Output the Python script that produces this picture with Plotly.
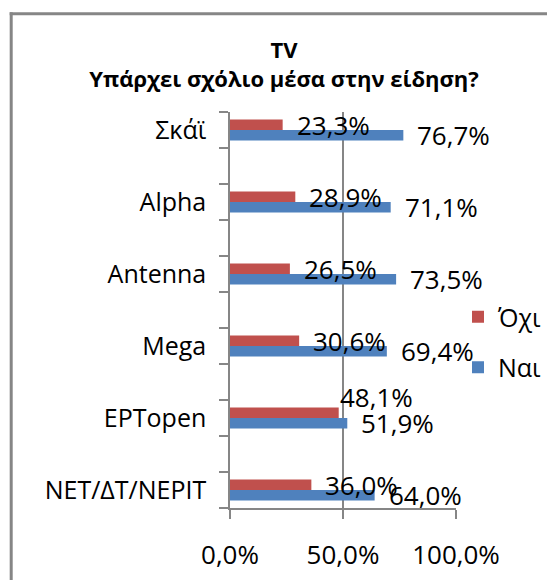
import plotly.graph_objects as go

# ---- data ----
categories = ["Σκάϊ", "Alpha", "Antenna", "Mega", "ΕΡΤopen", "ΝΕΤ/ΔΤ/ΝΕΡΙΤ"]
nai = [76.7, 71.1, 73.5, 69.4, 51.9, 64.0]
oxi = [23.3, 28.9, 26.5, 30.6, 48.1, 36.0]
x_ticks = [0, 50, 100]
series_names = ["Ναι", "Όχι"]
title_lines = ["TV", "Υπάρχει σχόλιο μέσα στην είδηση?"]

# ---- style / geometry ----
OFF = 8  # page body margin
W, H = 555 - OFF, 581 - OFF
ML, MT = 230 - OFF, 112 - OFF
PW, PH = 226, 396
MR, MB = W - ML - PW, H - MT - PH
FONT = "Open Sans"
BLUE, RED, GRID = "#4F81BD", "#C0504D", "#868686"
BARGAP = 0.71


def px2x(px):
    return (px - OFF - ML) / PW


def py2y(py):
    return (MT + PH - (py - OFF)) / PH


def fmt(v):
    return f"{v:.1f}".replace(".", ",") + "%"


n = len(categories)
ypos = [n - 1 - i for i in range(n)]
half = (1 - BARGAP) / 4  # centre offset of each bar inside its group

fig = go.Figure()
fig.add_trace(go.Bar(y=ypos, x=nai, orientation="h", name=series_names[0],
                     marker=dict(color=BLUE, line=dict(width=0)),
                     legendgroup="g1", legendrank=2))
fig.add_trace(go.Bar(y=ypos, x=oxi, orientation="h", name=series_names[1],
                     marker=dict(color=RED, line=dict(width=0)),
                     legendgroup="g2", legendrank=1))

# data labels
nudge = {(1, 4): (-13, 16)}  # (series, category) -> (dx, dy) in px
annotations = []
for s, vals in enumerate([nai, oxi]):
    for i, v in enumerate(vals):
        dx, dy = nudge.get((s, i), (0, 0))
        yc = ypos[i] + (half if s == 1 else -half)
        annotations.append(dict(x=v, y=yc, xref="x", yref="y", text=fmt(v),
                                showarrow=False, xanchor="left", yanchor="middle",
                                xshift=12 + dx, yshift=dy,
                                font=dict(family=FONT, size=26, color="black")))

# chart-area frame (only top and left edges fall inside the picture), drawn as thin filled bands
shapes = [
    dict(type="rect", xref="paper", yref="paper", layer="above",
         x0=px2x(9.7), x1=px2x(554), y0=py2y(15.3), y1=py2y(12.3),
         fillcolor=GRID, line=dict(width=0)),
    dict(type="rect", xref="paper", yref="paper", layer="above",
         x0=px2x(9.7), x1=px2x(12.7), y0=py2y(580), y1=py2y(12.3),
         fillcolor=GRID, line=dict(width=0)),
]

fig.update_layout(
    width=W, height=H,
    margin=dict(l=ML, r=MR, t=MT, b=MB, autoexpand=False),
    paper_bgcolor="white", plot_bgcolor="white",
    separators=",.",
    barmode="group", bargap=BARGAP, bargroupgap=0,
    font=dict(family=FONT, size=25, color="black"),
    title=dict(text="<br>".join(title_lines), x=(284 - OFF) / W, xref="container",
               xanchor="center", y=1 - 50 / H, yref="container", yanchor="top",
               font=dict(family=FONT, size=22, color="black", weight="bold")),
    xaxis=dict(range=[0, 100], tickvals=x_ticks, ticktext=[fmt(v) for v in x_ticks],
               showgrid=True, gridcolor=GRID, gridwidth=1.5, zeroline=False,
               showline=True, linecolor=GRID, linewidth=1.5,
               ticks="outside", ticklen=9, tickwidth=1.5, tickcolor=GRID,
               ticklabelstandoff=14, tickfont=dict(size=26)),
    yaxis=dict(range=[-0.25, n - 0.75], tickvals=ypos, ticktext=categories,
               showgrid=False, zeroline=False,
               showline=True, linecolor=GRID, linewidth=1.5,
               ticks="outside", ticklen=17, tickcolor="rgba(0,0,0,0)",
               minor=dict(tickvals=[-0.25 + 0.5 * k for k in range(2 * n)],
                          ticks="outside", ticklen=9, tickwidth=1.5, tickcolor=GRID,
                          showgrid=False),
               tickfont=dict(size=25)),
    legend=dict(x=px2x(458), y=py2y(294), xanchor="left", yanchor="top",
                traceorder="grouped", tracegroupgap=15,
                bgcolor="rgba(0,0,0,0)", font=dict(size=25)),
    annotations=annotations,
    shapes=shapes,
)

fig.write_html("out.html")
